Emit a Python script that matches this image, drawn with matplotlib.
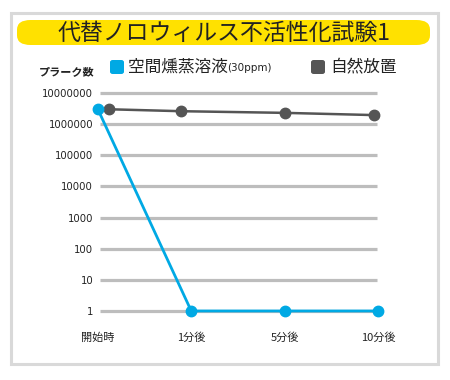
import matplotlib
matplotlib.use("Agg")
import matplotlib.pyplot as plt
from matplotlib.patches import FancyBboxPatch, Rectangle
import numpy as np

plt.rcParams['font.family'] = ['Noto Sans CJK JP', 'DejaVu Sans']

title = "代替ノロウィルス不活性化試験1"
categories = ["開始時", "1分後", "5分後", "10分後"]
series_names = ["空間燻蒸溶液", "自然放置"]
series_suffix = "(30ppm)"
fumigation = [3.0e6, 1, 1, 1]
natural = [3.0e6, 2.6e6, 2.3e6, 1.95e6]
ytick_values = [1, 10, 100, 1000, 10000, 100000, 1000000, 10000000]
ytick_labels = ["1", "10", "100", "1000", "10000", "100000", "1000000", "10000000"]
ylabel = "プラーク数"

BLUE = "#00A9E4"
GRAY = "#555555"
GRID = "#bdbdbd"

fig = plt.figure(figsize=(4.5, 3.8), dpi=100)
W, H = 450, 380

def fx(px): return px / W
def fy(py): return 1 - py / H

# outer border
fig.patches.append(Rectangle((fx(11), fy(364)), fx(438) - fx(11), fy(13) - fy(364),
                             transform=fig.transFigure, fill=False,
                             edgecolor="#d9d9d9", linewidth=2.2))
# title bar
fig.patches.append(FancyBboxPatch((fx(17), fy(45)), fx(430) - fx(17), fy(20) - fy(45),
                                  boxstyle="round,pad=0,rounding_size=0.03",
                                  transform=fig.transFigure, facecolor="#FFE100",
                                  edgecolor="none", mutation_aspect=H / W))
fig.text(fx(224), fy(33), title, ha="center", va="center", fontsize=16.5, color="#222222")

ax = fig.add_axes([fx(96), fy(320), fx(392) - fx(96), fy(88) - fy(320)])
ax.set_yscale("log")
x = np.arange(len(categories))
ax.set_xlim(-0.02, 3.15)
ax.set_ylim(10 ** (-0.29), 10 ** 7.16)

for v in ytick_values:
    ax.plot([0.02, 2.99], [v, v], color=GRID, linewidth=2.3, solid_capstyle="butt", zorder=1)

gx = x + np.array([0.12, -0.11, 0.0, -0.04])
ax.plot(gx, natural, color=GRAY, linewidth=1.8, marker="o", markersize=7.5, zorder=3, clip_on=False)
ax.plot(x, fumigation, color=BLUE, linewidth=2.0, marker="o", markersize=7.5, zorder=4, clip_on=False)

ax.set_yticks(ytick_values)
ax.set_yticklabels(ytick_labels, family="DejaVu Sans")
ax.yaxis.set_minor_locator(matplotlib.ticker.NullLocator())
ax.set_xticks(x)
ax.set_xticklabels(categories)
ax.tick_params(axis="y", length=0, pad=2, labelsize=7.3, labelcolor="#222222")
ax.tick_params(axis="x", length=0, pad=9, labelsize=8, labelcolor="#222222")
for s in ax.spines.values():
    s.set_visible(False)

# y label
fig.text(fx(67), fy(72), ylabel, ha="center", va="center", fontsize=8, color="#222222", fontweight="bold")

# legend
fig.patches.append(FancyBboxPatch((fx(110), fy(74)), fx(124) - fx(110), fy(60) - fy(74),
                                  boxstyle="round,pad=0,rounding_size=0.006",
                                  transform=fig.transFigure, facecolor=BLUE, edgecolor="none"))
fig.text(fx(128), fy(67), series_names[0], ha="left", va="center", fontsize=12, color="#222222")
fig.text(fx(227), fy(68), series_suffix, ha="left", va="center", fontsize=7.5,
         color="#222222", family="DejaVu Sans")
fig.patches.append(FancyBboxPatch((fx(311), fy(74)), fx(325) - fx(311), fy(60) - fy(74),
                                  boxstyle="round,pad=0,rounding_size=0.006",
                                  transform=fig.transFigure, facecolor=GRAY, edgecolor="none"))
fig.text(fx(330), fy(67), series_names[1], ha="left", va="center", fontsize=12, color="#222222")

fig.savefig("out.png", dpi=100)
